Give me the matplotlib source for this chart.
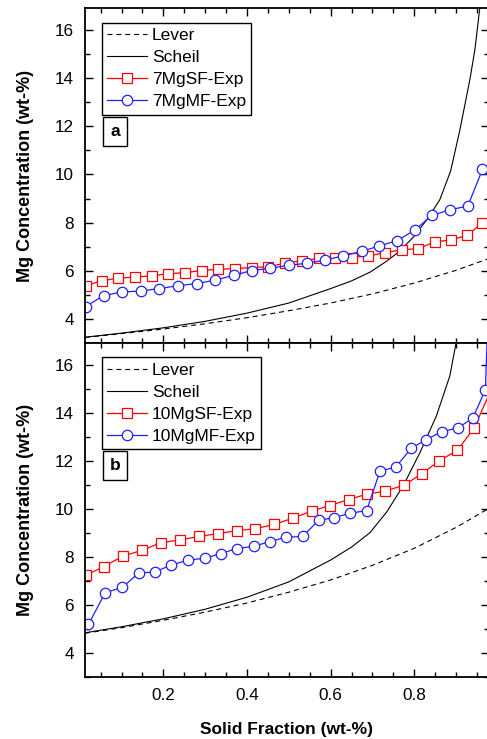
import matplotlib
matplotlib.use("Agg")
import matplotlib.pyplot as plt
from matplotlib.ticker import MultipleLocator

plt.rcParams['font.family'] = ['Liberation Sans', 'DejaVu Sans']

# ---------------- data ----------------
# panel a (7 Mg)
lever_a_fs = [0.013, 0.1, 0.2, 0.3, 0.4, 0.5, 0.6, 0.7, 0.8, 0.9, 0.98]
lever_a_c = [3.23, 3.39, 3.58, 3.80, 4.05, 4.34, 4.66, 5.04, 5.49, 6.02, 6.52]
scheil_a_fs = [0.013, 0.1, 0.2, 0.3, 0.4, 0.5, 0.6, 0.65, 0.695, 0.734, 0.764,
               0.798, 0.83, 0.861, 0.887, 0.909, 0.933, 0.945, 0.956, 0.962]
scheil_a_c = [3.24, 3.41, 3.63, 3.90, 4.24, 4.66, 5.26, 5.58, 5.95, 6.40, 6.80,
              7.40, 8.12, 8.95, 10.15, 11.85, 13.95, 15.2, 16.83, 17.8]
sf7_fs = [0.014, 0.053, 0.092, 0.132, 0.172, 0.212, 0.252, 0.292, 0.331, 0.371,
          0.411, 0.451, 0.491, 0.531, 0.571, 0.610, 0.650, 0.690, 0.730, 0.770,
          0.810, 0.849, 0.887, 0.927, 0.963]
sf7_c = [5.37, 5.59, 5.69, 5.74, 5.79, 5.88, 5.92, 6.01, 6.06, 6.09,
         6.13, 6.17, 6.31, 6.42, 6.51, 6.55, 6.55, 6.62, 6.75, 6.87,
         6.92, 7.20, 7.28, 7.47, 8.00]
mf7_fs = [0.014, 0.057, 0.102, 0.147, 0.190, 0.235, 0.280, 0.324, 0.368, 0.411,
          0.455, 0.500, 0.543, 0.586, 0.630, 0.674, 0.716, 0.759, 0.802, 0.842,
          0.885, 0.928, 0.963]
mf7_c = [4.51, 4.97, 5.12, 5.16, 5.26, 5.38, 5.47, 5.61, 5.81, 6.01,
         6.10, 6.23, 6.31, 6.44, 6.62, 6.80, 7.03, 7.25, 7.70, 8.30,
         8.53, 8.69, 10.21]

# panel b (10 Mg)
lever_b_fs = [0.013, 0.1, 0.2, 0.3, 0.4, 0.5, 0.6, 0.7, 0.8, 0.9, 0.98]
lever_b_c = [4.81, 5.04, 5.35, 5.69, 6.07, 6.52, 7.03, 7.64, 8.35, 9.22, 10.03]
scheil_b_fs = [0.013, 0.1, 0.2, 0.3, 0.4, 0.5, 0.6, 0.65, 0.694, 0.734, 0.774,
               0.814, 0.853, 0.885, 0.9, 0.905]
scheil_b_c = [4.83, 5.08, 5.41, 5.81, 6.31, 6.95, 7.86, 8.40, 9.00, 9.86, 10.97,
              12.35, 13.87, 15.53, 16.91, 17.5]
sf10_fs = [0.014, 0.058, 0.103, 0.150, 0.194, 0.240, 0.285, 0.331, 0.375, 0.420,
           0.465, 0.509, 0.555, 0.598, 0.643, 0.686, 0.731, 0.775, 0.818, 0.860,
           0.903, 0.943, 0.985]
sf10_c = [7.22, 7.59, 8.02, 8.27, 8.58, 8.70, 8.84, 8.96, 9.08, 9.17,
          9.34, 9.60, 9.90, 10.13, 10.38, 10.60, 10.73, 10.98, 11.45, 12.00,
          12.43, 13.36, 15.00]
mf10_fs = [0.021, 0.061, 0.102, 0.141, 0.179, 0.219, 0.259, 0.299, 0.337, 0.376,
           0.416, 0.455, 0.493, 0.533, 0.571, 0.609, 0.647, 0.686, 0.718, 0.756,
           0.793, 0.829, 0.866, 0.904, 0.940, 0.970, 0.976]
mf10_c = [5.18, 6.50, 6.72, 7.32, 7.36, 7.65, 7.86, 7.93, 8.13, 8.34,
          8.43, 8.63, 8.81, 8.84, 9.51, 9.63, 9.81, 9.92, 11.56, 11.74,
          12.52, 12.88, 13.21, 13.36, 13.77, 14.96, 18.0]

panels = [
    dict(lever=(lever_a_fs, lever_a_c), scheil=(scheil_a_fs, scheil_a_c),
         sf=(sf7_fs, sf7_c), mf=(mf7_fs, mf7_c),
         sf_label='7MgSF-Exp', mf_label='7MgMF-Exp', tag='a'),
    dict(lever=(lever_b_fs, lever_b_c), scheil=(scheil_b_fs, scheil_b_c),
         sf=(sf10_fs, sf10_c), mf=(mf10_fs, mf10_c),
         sf_label='10MgSF-Exp', mf_label='10MgMF-Exp', tag='b'),
]

RED = '#ff0000'
BLUE = '#2020ff'
FS = 12.3

fig = plt.figure(figsize=(4.87, 7.39), dpi=100)
left = 85 / 487
width = 404 / 487
ax_top = fig.add_axes([left, 1 - 343 / 739, width, (343 - 8.3) / 739])
ax_bot = fig.add_axes([left, 1 - 676.7 / 739, width, (676.7 - 343) / 739])

for ax, p in zip([ax_top, ax_bot], panels):
    ax.plot(*p['lever'], color='black', lw=0.8, dashes=(4.5, 3.5), label='Lever')
    ax.plot(*p['scheil'], color='black', lw=0.8, label='Scheil')
    ax.plot(*p['sf'], color=RED, lw=0.9, marker='s', ms=6.7, mfc='white',
            mec=RED, mew=0.9, label=p['sf_label'])
    ax.plot(*p['mf'], color=BLUE, lw=0.9, marker='o', ms=7.5, mfc='white',
            mec=BLUE, mew=0.9, label=p['mf_label'])
    ax.set_xlim(0.0127, 0.9786)
    ax.set_ylim(3.0, 16.9)
    ax.xaxis.set_major_locator(MultipleLocator(0.2))
    ax.xaxis.set_minor_locator(MultipleLocator(0.05))
    ax.yaxis.set_major_locator(MultipleLocator(2))
    ax.yaxis.set_minor_locator(MultipleLocator(1))
    ax.tick_params(which='both', direction='in', top=True, right=True,
                   labelsize=FS, width=1.0, pad=8)
    ax.tick_params(which='major', length=5.5)
    ax.tick_params(which='minor', length=3.5)
    for s in ax.spines.values():
        s.set_linewidth(1.3)
    ax.set_ylabel('Mg Concentration (wt-%)', fontsize=13, fontweight='bold',
                  labelpad=15)
    leg = ax.legend(loc='upper left', bbox_to_anchor=(0.0413, 0.957),
                    borderaxespad=0, fontsize=12.5, fancybox=False,
                    edgecolor='black', framealpha=1, handlelength=2.3,
                    handletextpad=0.3, labelspacing=0.4, borderpad=0.3)
    leg.get_frame().set_linewidth(1.0)
    ax.text(0.0743, 0.6325, p['tag'], transform=ax.transAxes, fontsize=12.5,
            fontweight='bold', ha='center', va='center',
            bbox=dict(boxstyle='square,pad=0.4', fc='white', ec='black', lw=1.0))

ax_top.tick_params(labelbottom=False)
ax_bot.set_xlabel('Solid Fraction (wt-%)', fontsize=12.5, fontweight='bold',
                  labelpad=14)

fig.savefig('out.png', dpi=100)
